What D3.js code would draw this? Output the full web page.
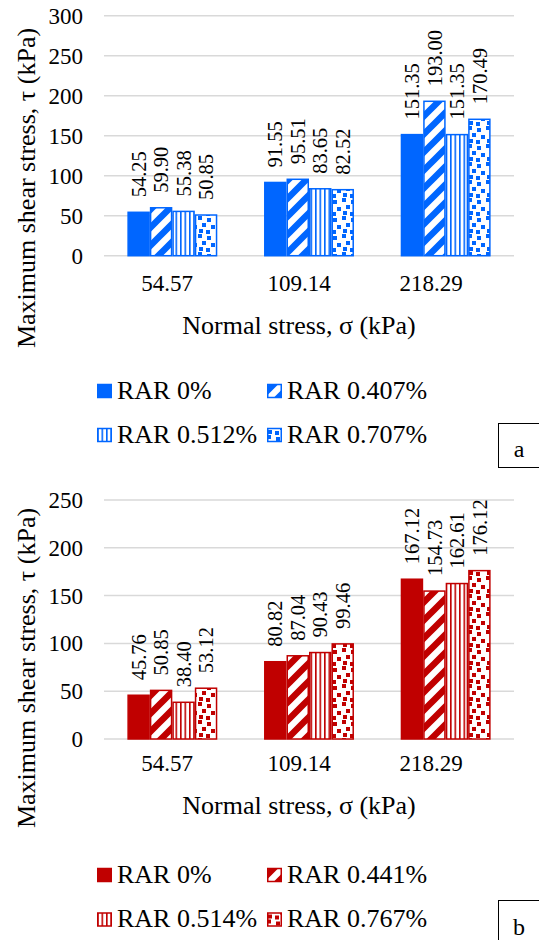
<!DOCTYPE html>
<html>
<head>
<meta charset="utf-8">
<script src="https://cdn.jsdelivr.net/npm/d3@7"></script>
<style>
  body { margin: 0; background: #fff; }
</style>
</head>
<body>
<svg id="chart" width="539" height="940"></svg>
<script>
// chart data
var categories = ["54.57", "109.14", "218.29"];

var seriesA = ["RAR 0%", "RAR 0.407%", "RAR 0.512%", "RAR 0.707%"];
var rar0A   = [54.25, 91.55, 151.35];
var rar407  = [59.90, 95.51, 193.00];
var rar512  = [55.38, 83.65, 151.35];
var rar707  = [50.85, 82.52, 170.49];
var ticksA  = [0, 50, 100, 150, 200, 250, 300];

var seriesB = ["RAR 0%", "RAR 0.441%", "RAR 0.514%", "RAR 0.767%"];
var rar0B   = [45.76, 80.82, 167.12];
var rar441  = [50.85, 87.04, 154.73];
var rar514  = [38.40, 90.43, 162.61];
var rar767  = [53.12, 99.46, 176.12];
var ticksB  = [0, 50, 100, 150, 200, 250];

var svg = d3.select("#chart");
var defs = svg.append("defs");
var FONT = "Liberation Serif";

// fill patterns, one set per colour
function makePatterns(key, color) {
  var p = defs.append("pattern").attr("id", "diag-" + key)
    .attr("patternUnits", "userSpaceOnUse").attr("width", 18).attr("height", 18);
  p.append("rect").attr("width", 18).attr("height", 18).attr("fill", "#fff");
  p.append("path").attr("d", "M-4.5,4.5L4.5,-4.5M0,18L18,0M13.5,22.5L22.5,13.5")
    .attr("stroke", color).attr("stroke-width", 6.5);

  var v = defs.append("pattern").attr("id", "vert-" + key)
    .attr("patternUnits", "userSpaceOnUse").attr("width", 4.5).attr("height", 4.5);
  v.append("rect").attr("width", 4.5).attr("height", 4.5).attr("fill", "#fff");
  v.append("rect").attr("x", 0).attr("width", 1.6).attr("height", 4.5).attr("fill", color);

  var c = defs.append("pattern").attr("id", "conf-" + key)
    .attr("patternUnits", "userSpaceOnUse").attr("width", 18).attr("height", 18);
  c.append("rect").attr("width", 18).attr("height", 18).attr("fill", "#fff");
  [[0, 0], [9, 2], [4, 7], [13, 9], [1, 13], [8, 14]].forEach(function(s) {
    c.append("rect").attr("x", s[0]).attr("y", s[1]).attr("width", 4).attr("height", 4).attr("fill", color);
  });
}

function fills(key, color) {
  return [color, "url(#diag-" + key + ")", "url(#vert-" + key + ")", "url(#conf-" + key + ")"];
}

function txt(sel, size) {
  return sel.append("text").attr("font-family", FONT).attr("font-size", size).attr("fill", "#000");
}

function drawPanel(opt) {
  var g = svg.append("g");
  var y = d3.scaleLinear().domain([0, d3.max(opt.ticks)]).range([opt.y0, opt.yTop]);
  var x0 = d3.scaleBand().domain(categories).range([104, 514]).paddingInner(0.342).paddingOuter(0.171);
  var x1 = d3.scaleBand().domain(d3.range(opt.series.length)).range([0, x0.bandwidth()]);
  var xl = d3.scaleBand().domain(categories).range([101, 497]);
  var f = fills(opt.key, opt.color);

  // gridlines
  g.selectAll(".grid").data(opt.ticks).enter().append("line")
    .attr("x1", 104).attr("x2", 514)
    .attr("y1", function(d) { return y(d); }).attr("y2", function(d) { return y(d); })
    .attr("stroke", "#d9d9d9").attr("stroke-width", 1.5);

  // y tick labels
  opt.ticks.forEach(function(t) {
    txt(g, 23).attr("x", 83).attr("y", y(t)).attr("dy", "0.35em")
      .attr("text-anchor", "end").text(t);
  });

  // bars
  opt.values.forEach(function(vals, si) {
    var bars = g.append("g");
    bars.selectAll("rect").data(vals).enter().append("rect")
      .attr("x", function(d, i) { return x0(categories[i]) + x1(si) + 0.75; })
      .attr("y", function(d) { return y(d); })
      .attr("width", x1.bandwidth() - 1.5)
      .attr("height", function(d) { return opt.y0 - y(d); })
      .attr("fill", f[si]).attr("stroke", opt.color).attr("stroke-width", 1.5);

    vals.forEach(function(d, i) {
      txt(bars, 20.5)
        .attr("transform", "translate(" + (x0(categories[i]) + x1(si) + x1.bandwidth() / 2) + "," + (y(d) - 15) + ") rotate(-90)")
        .attr("dy", "0.35em")
        .text(d3.format(".2f")(d));
    });
  });

  // x tick labels
  categories.forEach(function(c) {
    txt(g, 23).attr("x", xl(c) + xl.bandwidth() / 2).attr("y", opt.xTickY)
      .attr("text-anchor", "middle").text(c);
  });

  txt(g, 26).attr("x", 299).attr("y", opt.xTitleY).attr("text-anchor", "middle")
    .text("Normal stress, σ (kPa)");

  txt(g, 26).attr("transform", "translate(35," + opt.yTitleC + ") rotate(-90)")
    .attr("text-anchor", "middle").text("Maximum shear stress, τ (kPa)");

  // legend
  opt.series.forEach(function(s, i) {
    var lg = g.append("g")
      .attr("transform", "translate(" + [97, 267][i % 2] + "," + opt.legRows[Math.floor(i / 2)] + ")");
    lg.append("rect").attr("x", 0.75).attr("y", -6.5).attr("width", 13.5).attr("height", 13)
      .attr("fill", f[i]).attr("stroke", opt.color).attr("stroke-width", 1.5);
    txt(lg, 26).attr("x", 20).attr("y", 7.5).text(s);
  });

  // panel tag box
  g.append("rect").attr("x", 498.5).attr("y", opt.boxY).attr("width", 50).attr("height", opt.boxH)
    .attr("fill", "none").attr("stroke", "#000").attr("stroke-width", 1);
  txt(g, 24).attr("x", 519).attr("y", opt.tagY).attr("text-anchor", "middle").text(opt.tag);
}

var blue = "#0066ff", red = "#c00000";
makePatterns("a", blue);
makePatterns("b", red);

drawPanel({
  key: "a", color: blue, series: seriesA, values: [rar0A, rar407, rar512, rar707],
  ticks: ticksA, y0: 255.7, yTop: 15.7, xTickY: 290.5, xTitleY: 334, yTitleC: 188,
  legRows: [391, 435], boxY: 423.5, boxH: 44, tagY: 457, tag: "a"
});

drawPanel({
  key: "b", color: red, series: seriesB, values: [rar0B, rar441, rar514, rar767],
  ticks: ticksB, y0: 739, yTop: 500, xTickY: 770.5, xTitleY: 814, yTitleC: 668,
  legRows: [875, 919.5], boxY: 900.5, boxH: 50, tagY: 935, tag: "b"
});
</script>
</body>
</html>
